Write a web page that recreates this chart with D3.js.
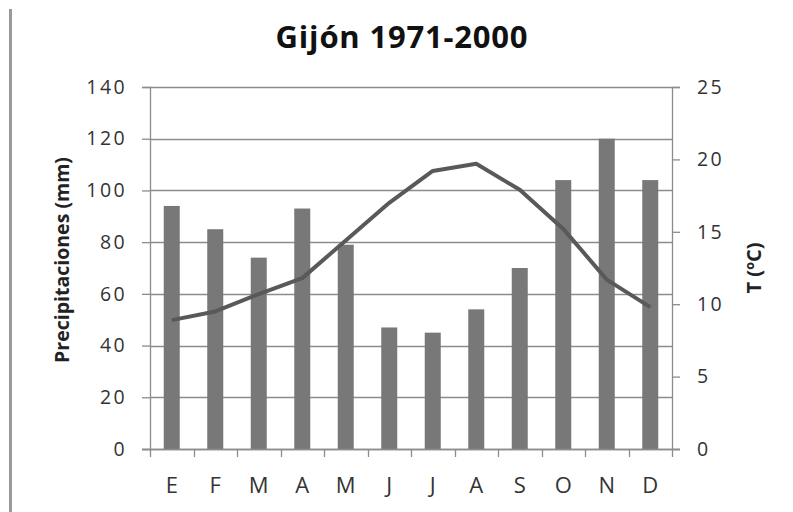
<!DOCTYPE html>
<html>
<head>
<meta charset="utf-8">
<script src="https://cdn.jsdelivr.net/npm/d3@7"></script>
<style>
  body { margin: 0; background: #fff; }
  text { font-family: "Open Sans", "Liberation Sans", sans-serif; }
</style>
</head>
<body>
<div id="chart"></div>
<script>
// monthly climate data, Gijón 1971-2000
var months = ["E", "F", "M", "A", "M", "J", "J", "A", "S", "O", "N", "D"];
var precip = [94, 85, 74, 93, 79, 47, 45, 54, 70, 104, 120, 104];
var temps = [8.9, 9.5, 10.7, 11.8, 14.4, 17.0, 19.2, 19.7, 17.9, 15.2, 11.7, 9.8];
var precipTicks = [0, 20, 40, 60, 80, 100, 120, 140];
var tempTicks = [0, 5, 10, 15, 20, 25];

var width = 793, height = 512;
var plotL = 150, plotR = 672, plotT = 87, plotB = 449;
var gridCol = "#8c8c8c";

var svg = d3.select("#chart").append("svg")
    .attr("width", width)
    .attr("height", height);

// grey border line at the left edge
svg.append("line")
    .attr("x1", 10.5).attr("x2", 10.5)
    .attr("y1", 9).attr("y2", height)
    .attr("stroke", "#9a9a9a")
    .attr("stroke-width", 3);

var idx = months.map(function(d, i) { return i; });

var xBand = d3.scaleBand().domain(idx).range([plotL, plotR]);
var barW = 16;

var yP = d3.scaleLinear().domain([0, 140]).range([plotB, plotT]);
var yT = d3.scaleLinear().domain([0, 25]).range([plotB, plotT]);

// gridlines
svg.append("g")
    .selectAll("line")
    .data(precipTicks)
    .enter().append("line")
    .attr("x1", plotL).attr("x2", plotR)
    .attr("y1", function(d) { return Math.round(yP(d)) + 0.5; })
    .attr("y2", function(d) { return Math.round(yP(d)) + 0.5; })
    .attr("stroke", gridCol)
    .attr("stroke-width", 1.3);

// bars
svg.append("g")
    .selectAll("rect")
    .data(precip)
    .enter().append("rect")
    .attr("x", function(d, i) { return xBand(i) + xBand.bandwidth() / 2 - barW / 2; })
    .attr("width", barW)
    .attr("y", function(d) { return yP(d); })
    .attr("height", function(d) { return plotB - yP(d); })
    .attr("fill", "#787878");

function styleAxis(g) {
    g.select(".domain").attr("stroke", gridCol).attr("stroke-width", 1.3);
    g.selectAll(".tick line").attr("stroke", gridCol).attr("stroke-width", 1.3);
    g.selectAll("text")
        .attr("font-size", 19.5)
        .attr("letter-spacing", 2.4)
        .attr("fill", "#333")
        .style("font-family", "'Open Sans', sans-serif");
}

// left axis
svg.append("g")
    .attr("transform", "translate(" + plotL + ",0)")
    .call(d3.axisLeft(yP).tickValues(precipTicks).tickSize(8).tickPadding(15))
    .call(styleAxis);

// right axis
svg.append("g")
    .attr("transform", "translate(" + plotR + ",0)")
    .call(d3.axisRight(yT).tickValues(tempTicks).tickSize(8).tickPadding(17))
    .call(styleAxis);

// bottom axis with ticks between categories
var boundaries = idx.map(function(i) { return xBand(i); }).concat([plotR]);
svg.append("g")
    .selectAll("line")
    .data(boundaries)
    .enter().append("line")
    .attr("x1", function(d) { return Math.round(d) + 0.5; })
    .attr("x2", function(d) { return Math.round(d) + 0.5; })
    .attr("y1", plotB).attr("y2", plotB + 8)
    .attr("stroke", gridCol)
    .attr("stroke-width", 1.3);
svg.append("line")
    .attr("x1", plotL - 8).attr("x2", plotR + 8)
    .attr("y1", plotB + 0.5).attr("y2", plotB + 0.5)
    .attr("stroke", gridCol)
    .attr("stroke-width", 1.3);

svg.append("g")
    .selectAll("text")
    .data(months)
    .enter().append("text")
    .attr("x", function(d, i) { return xBand(i) + xBand.bandwidth() / 2; })
    .attr("y", 493)
    .attr("text-anchor", "middle")
    .attr("font-size", 22)
    .attr("fill", "#333")
    .text(function(d) { return d; });

// temperature line
var line = d3.line()
    .x(function(d, i) { return xBand(i) + xBand.bandwidth() / 2; })
    .y(function(d) { return yT(d); });

svg.append("path")
    .datum(temps)
    .attr("d", line)
    .attr("fill", "none")
    .attr("stroke", "#595959")
    .attr("stroke-width", 4)
    .attr("stroke-linejoin", "round");

// title
svg.append("text")
    .attr("x", 402)
    .attr("y", 48)
    .attr("text-anchor", "middle")
    .attr("font-size", 31)
    .attr("letter-spacing", 0.8)
    .attr("font-weight", "bold")
    .attr("fill", "#111")
    .text("Gijón 1971-2000");

// axis titles
svg.append("text")
    .attr("transform", "translate(69,260) rotate(-90)")
    .attr("text-anchor", "middle")
    .attr("font-size", 19.5)
    .attr("font-weight", "bold")
    .attr("fill", "#222")
    .text("Precipitaciones (mm)");

svg.append("text")
    .attr("transform", "translate(761,268) rotate(-90)")
    .attr("text-anchor", "middle")
    .attr("font-size", 20)
    .attr("font-weight", "bold")
    .attr("fill", "#222")
    .text("T (ºC)");
</script>
</body>
</html>
